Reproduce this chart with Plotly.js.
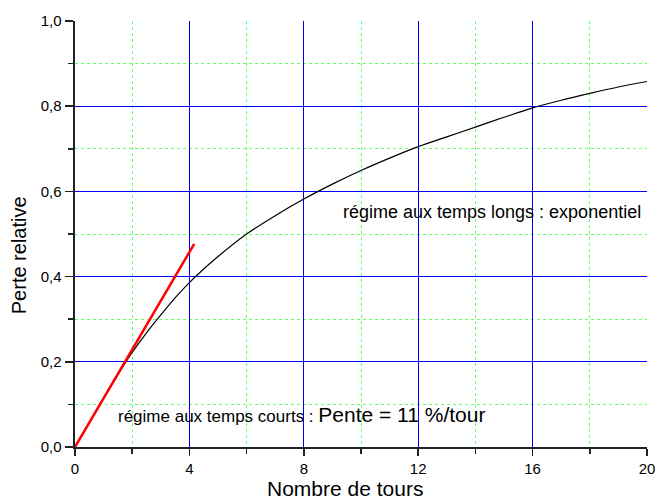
<!DOCTYPE html>
<html>
<head>
<meta charset="utf-8">
<script src="https://cdn.plot.ly/plotly-3.0.1.min.js"></script>
<style>html,body{margin:0;padding:0;background:#fff;}#chart{width:655px;height:502px;}</style>
</head>
<body>
<div id="chart"></div>
<script>
// Black curve: relative loss vs number of turns
const tours = [0, 0.5, 1, 1.5, 2, 2.5, 3, 3.5, 4, 5, 6, 7, 8, 9, 10, 11, 12, 13, 14, 15, 16, 17, 18, 19, 20];
const perte = [0, 0.058, 0.115, 0.17, 0.222, 0.268, 0.31, 0.35, 0.386, 0.447, 0.50, 0.543, 0.582, 0.617, 0.649, 0.678, 0.705, 0.728, 0.751, 0.774, 0.796, 0.814, 0.830, 0.845, 0.858];
// Red tangent at origin (slope ~11 %/tour)
const tangenteX = [0, 4.17];
const tangenteY = [0, 0.477];
// Tick labels
const xTicks = [0, 4, 8, 12, 16, 20];
const yTicks = [0, 0.2, 0.4, 0.6, 0.8, 1.0];
const yTickText = ["0,0", "0,2", "0,4", "0,6", "0,8", "1,0"];
// Texts
const xTitle = 'Nombre de tours';
const yTitle = 'Perte relative';

const font = "Liberation Sans, Arial, sans-serif";

const traces = [
  {x: tours, y: perte, type: 'scatter', mode: 'lines', line: {color: '#000', width: 1.2, shape: 'spline', smoothing: 0.8}, hoverinfo: 'skip'},
  {x: tangenteX, y: tangenteY, type: 'scatter', mode: 'lines', line: {color: '#ff0000', width: 2.5}, hoverinfo: 'skip'}
];

const layout = {
  width: 655, height: 502,
  margin: {l: 75, r: 8, t: 21, b: 55},
  paper_bgcolor: '#fff', plot_bgcolor: '#fff',
  showlegend: false,
  font: {family: font, color: '#000', size: 14},
  xaxis: {
    range: [0, 20], tickvals: xTicks, ticktext: xTicks.map(String),
    showline: true, linecolor: '#222', linewidth: 2,
    ticks: 'outside', ticklen: 7, tickwidth: 1.5, tickcolor: '#222',
    showgrid: true, gridcolor: '#0000ff', gridwidth: 1.2,
    zeroline: false, ticklabeloverflow: 'allow',
    minor: {dtick: 2, tick0: 0, ticks: 'outside', ticklen: 5, tickwidth: 1.5, tickcolor: '#222',
            showgrid: true, gridcolor: '#66ff66', griddash: 'dot', gridwidth: 1},
    tickfont: {size: 15, family: font}
  },
  yaxis: {
    range: [0, 1.0], tickvals: yTicks, ticktext: yTickText,
    showline: true, linecolor: '#222', linewidth: 2.5,
    ticks: 'outside', ticklen: 8, tickwidth: 1.5, tickcolor: '#222',
    showgrid: true, gridcolor: '#0000ff', gridwidth: 1.2,
    zeroline: false, ticklabeloverflow: 'allow',
    minor: {dtick: 0.1, tick0: 0, ticks: 'outside', ticklen: 5, tickwidth: 1.5, tickcolor: '#222',
            showgrid: true, gridcolor: '#66ff66', griddash: 'dot', gridwidth: 1},
    tickfont: {size: 15, family: font}
  },
  annotations: [
    {x: 0.472, y: -0.098, xref: 'paper', yref: 'paper', xanchor: 'center', yanchor: 'middle', showarrow: false,
     text: xTitle, font: {size: 21, family: font, color: '#000'}},
    {x: -0.098, y: 0.45, xref: 'paper', yref: 'paper', xanchor: 'center', yanchor: 'middle', showarrow: false,
     textangle: -90, text: yTitle, font: {size: 20, family: font, color: '#000'}},
    {x: 9.3, y: 0.552, xref: 'x', yref: 'y', xanchor: 'left', yanchor: 'middle', showarrow: false,
     text: 'régime aux temps longs : exponentiel', font: {size: 18, family: font, color: '#000'}},
    {x: 1.42, y: 0.077, xref: 'x', yref: 'y', xanchor: 'left', yanchor: 'middle', showarrow: false,
     text: 'régime aux temps courts : <span style="font-size:21px">Pente = 11 %/tour</span>', font: {size: 17, family: font, color: '#000'}}
  ]
};

Plotly.newPlot('chart', traces, layout, {displayModeBar: false, staticPlot: true});
</script>
</body>
</html>
